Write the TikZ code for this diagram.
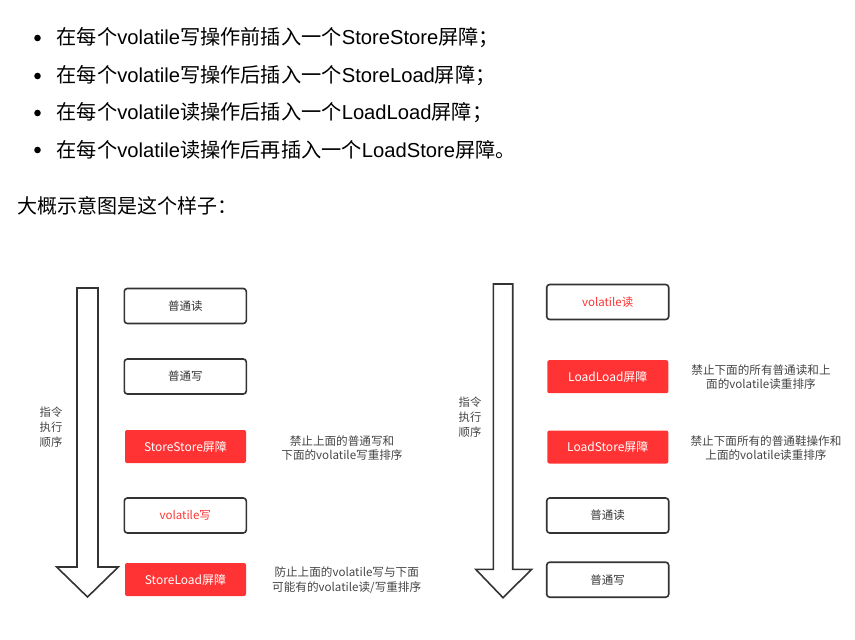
\documentclass[tikz,border=0pt]{standalone}
\usepackage{fontspec}
\setmainfont{Liberation Sans}
\newfontfamily\cjk{Noto Sans CJK SC}
\newcommand\zh[1]{{\cjk #1}}
\definecolor{boxred}{RGB}{255,51,51}
\definecolor{edge}{RGB}{51,51,51}
\definecolor{note}{RGB}{68,68,68}
\begin{document}
\begin{tikzpicture}[x=1pt,y=-1pt,
  wbox/.style={draw=edge,line width=1.6pt,rounded corners=3pt,fill=white,minimum width=122pt,minimum height=35pt,inner sep=0pt,text=edge,font=\cjk\fontsize{11.5}{14}\selectfont},
  rbox/.style={fill=boxred,rounded corners=2pt,minimum width=121pt,minimum height=33pt,inner sep=0pt,text=white,font=\cjk\fontsize{12}{14}\selectfont},
  notetxt/.style={align=center,inner sep=0pt,text=note,font=\cjk\fontsize{11.6}{14.5}\selectfont},
  sidetxt/.style={align=center,inner sep=0pt,text=note,font=\cjk\fontsize{11.3}{15}\selectfont},
  bigtxt/.style={anchor=west,inner sep=0pt,font=\fontsize{20.2}{24}\selectfont},
  arrowshape/.style={draw=edge,line width=1.6pt,fill=white,line join=miter}]
\useasboundingbox (0,0) rectangle (855,640);
% top text
\foreach \yy in {38,76,113,150} {\fill (37.5,\yy) circle (3.3pt);}
\node[bigtxt] (t1) at (56.5,38) {\zh{在每个}volatile\zh{写操作前插入一个}StoreStore\zh{屏障；}};
\node[bigtxt] (t2) at (56.5,76) {\zh{在每个}volatile\zh{写操作后插入一个}StoreLoad\zh{屏障；}};
\node[bigtxt] (t3) at (56.5,113) {\zh{在每个}volatile\zh{读操作后插入一个}LoadLoad\zh{屏障；}};
\node[bigtxt] (t4) at (56.5,150) {\zh{在每个}volatile\zh{读操作后再插入一个}LoadStore\zh{屏障。}};
\node[bigtxt,font=\cjk\fontsize{20}{24}\selectfont] (t5) at (17,206) {大概示意图是这个样子：};
% left arrow
\draw[arrowshape] (77,288) -- (98,288) -- (98,567) -- (118.3,567) -- (87.5,597) -- (56.7,567) -- (77,567) -- cycle;
\node[sidetxt] (lside) at (51,427) {指令\\执行\\顺序};
\node[wbox] (l1) at (185.3,306) {普通读};
\node[wbox] (l2) at (185.3,376.5) {普通写};
\node[rbox] (l3) at (185.5,446.5) {StoreStore屏障};
\node[wbox,text=boxred] (l4) at (185.3,515.5) {volatile写};
\node[rbox] (l5) at (185.5,579.5) {StoreLoad屏障};
\node[notetxt] (n1) at (342,448) {禁止上面的普通写和\\下面的volatile写重排序};
\node[notetxt] (n2) at (346.7,580) {防止上面的volatile写与下面\\可能有的volatile读/写重排序};
% right arrow
\draw[arrowshape] (493.3,284) -- (512.7,284) -- (512.7,569.3) -- (531.7,569.3) -- (503,597.7) -- (475.7,569.3) -- (493.3,569.3) -- cycle;
\node[sidetxt] (rside) at (470,417) {指令\\执行\\顺序};
\node[wbox,text=boxred] (r1) at (607.7,302) {volatile读};
\node[rbox] (r2) at (607.8,376.7) {LoadLoad屏障};
\node[rbox] (r3) at (607.8,447) {LoadStore屏障};
\node[wbox] (r4) at (607.7,515.5) {普通读};
\node[wbox] (r5) at (607.7,579.7) {普通写};
\node[notetxt] (n3) at (761,377) {禁止下面的所有普通读和上\\面的volatile读重排序};
\node[notetxt] (n4) at (766,448) {禁止下面所有的普通鞋操作和\\上面的volatile读重排序};
\end{tikzpicture}
\end{document}
